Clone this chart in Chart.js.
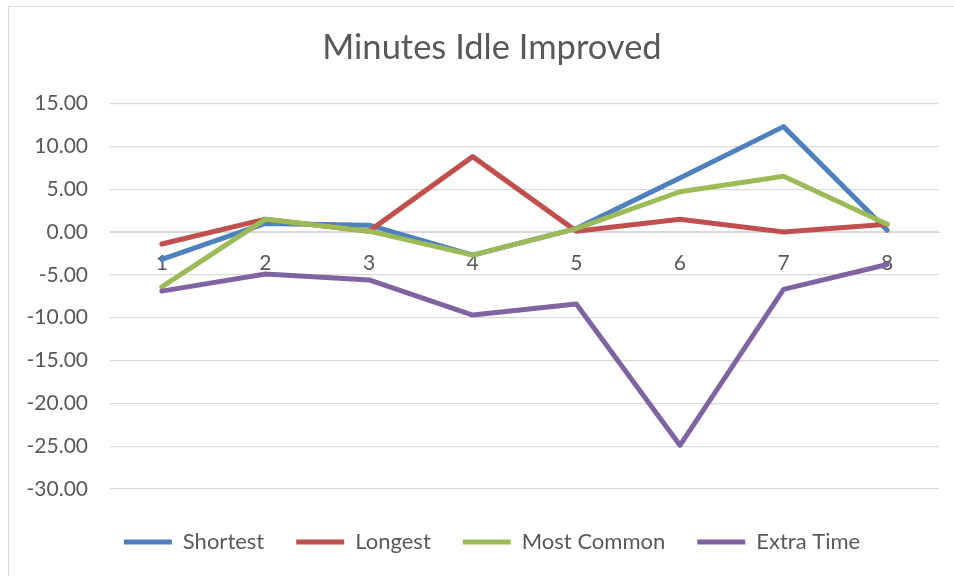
<!DOCTYPE html>
<html>
<head>
<meta charset="utf-8">
<script src="https://cdn.jsdelivr.net/npm/chart.js@4.4.0/dist/chart.umd.min.js"></script>
<style>
  html, body { margin: 0; padding: 0; background: #fff; overflow: hidden; }
  #frame { position: absolute; left: 8px; top: 6px; width: 1000px; height: 600px; border: 1px solid #d9d9d9; }
  #chart { position: absolute; left: 0; top: 0; }
</style>
</head>
<body>
<div id="frame"></div>
<!-- the Excel chart is wider than the window; the canvas is too and gets cropped -->
<canvas id="chart" width="1000" height="576"></canvas>
<script>
// Minutes Idle Improved
const runs = ['1', '2', '3', '4', '5', '6', '7', '8'];
const shortest = [-3.2, 1.0, 0.8, -2.7, 0.4, 6.3, 12.3, 0.2];
const longest = [-1.4, 1.5, 0.1, 8.8, 0.1, 1.5, 0.0, 0.9];
const mostCommon = [-6.4, 1.5, 0.1, -2.7, 0.4, 4.7, 6.5, 0.9];
const extraTime = [-6.9, -4.9, -5.6, -9.7, -8.4, -24.9, -6.7, -3.8];

const seriesNames = ['Shortest', 'Longest', 'Most Common', 'Extra Time'];
const seriesValues = [shortest, longest, mostCommon, extraTime];
const colors = ['#4f81bd', '#c0504d', '#9bbb59', '#8064a2'];

const textColor = '#595959';
const gridColor = '#d9d9d9';
const fontFamily = 'Lato, "Open Sans", sans-serif';

const datasets = [];
for (let i = 0; i < seriesNames.length; i++) {
    datasets.push({
        label: seriesNames[i],
        data: seriesValues[i],
        borderColor: colors[i],
        backgroundColor: colors[i],
        borderWidth: 5,
        borderCapStyle: 'round',
        borderJoinStyle: 'round',
        pointRadius: 0,
        pointHoverRadius: 0,
        tension: 0,
        fill: false,
        // later series sit on top, like Excel
        order: seriesNames.length - 1 - i
    });
}

const ctx = document.getElementById('chart').getContext('2d');
new Chart(ctx, {
    type: 'line',
    data: {
        labels: runs,
        datasets: datasets
    },
    options: {
        responsive: false,
        animation: false,
        devicePixelRatio: 1,
        layout: {
            padding: { left: 0, right: 16, top: 0, bottom: 13 }
        },
        plugins: {
            title: {
                display: true,
                text: 'Minutes Idle Improved',
                color: textColor,
                font: { family: fontFamily, size: 34.5, weight: 'normal', lineHeight: 1.2 },
                padding: { top: 27.3, bottom: 34.8 }
            },
            legend: {
                position: 'bottom',
                // empty title only adds a little room above the items
                title: {
                    display: true,
                    text: '',
                    font: { size: 10, lineHeight: 1 },
                    padding: 0
                },
                labels: {
                    usePointStyle: true,
                    pointStyle: 'line',
                    pointStyleWidth: 48,
                    padding: 32,
                    color: textColor,
                    font: { family: fontFamily, size: 22 },
                    sort: (a, b) => a.datasetIndex - b.datasetIndex
                }
            },
            tooltip: { enabled: false }
        },
        scales: {
            x: {
                position: { y: 0 },
                offset: true,
                grid: { display: false, drawTicks: false },
                border: { display: true, color: gridColor, width: 1 },
                ticks: {
                    color: textColor,
                    font: { family: fontFamily, size: 21 },
                    padding: 19,
                    maxRotation: 0
                }
            },
            y: {
                min: -30,
                max: 15,
                afterFit: (scale) => { scale.width = 110; },
                grid: { color: gridColor, lineWidth: 1.3, drawTicks: false },
                border: { display: false },
                ticks: {
                    stepSize: 5,
                    padding: 22,
                    color: textColor,
                    font: { family: fontFamily, size: 21 },
                    callback: (v) => v.toFixed(2)
                }
            },
            // empty right-hand room so the plot ends where Excel's does
            yRight: {
                type: 'linear',
                position: 'right',
                grid: { display: false, drawTicks: false },
                border: { display: false },
                ticks: { display: false },
                afterFit: (scale) => { scale.width = 45; }
            }
        }
    }
});
</script>
</body>
</html>
